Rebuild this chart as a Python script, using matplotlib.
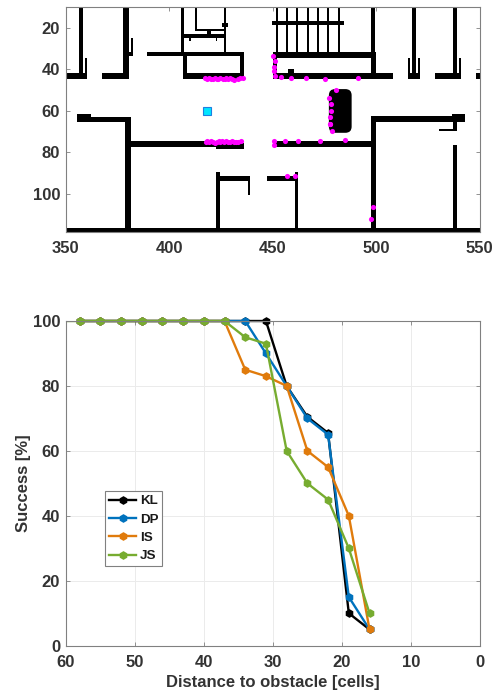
import matplotlib
matplotlib.use("Agg")
import matplotlib.pyplot as plt
from matplotlib.patches import Rectangle, FancyBboxPatch

plt.rcParams['font.family'] = ['Liberation Sans', 'DejaVu Sans']
plt.rcParams['font.weight'] = 'bold'

# --- map walls: (x0, x1, y0, y1) in map cells
walls = [
    (356.6,358.5,10,44.6),(350,360.5,41.6,44.6),(359.5,360.5,34.5,41.6),
    (367.4,380.3,41.6,44.6),(377.5,380.4,10,44.6),(380.3,382.4,31.6,33.4),(381.4,382.4,24.8,33.4),
    (389.3,436.2,31.6,33.4),(405.6,407.3,10,31.6),(406.5,408.5,31.6,44.6),(406.5,436.2,41.6,44.6),
    (434.4,436.2,31.6,44.6),(407.3,426.6,22.7,24.7),(409.6,410.4,24.7,26.3),(422.5,423.3,24.7,26.3),
    (412.3,413.3,10,21.6),(412.3,427,20.6,21.6),(426.3,427.5,10,31.6),(425.4,428.3,17.4,19.4),
    (418.4,420.2,21.6,22.7),
    (449.5,484.5,16.6,18.5),(451.5,452.5,10,31.6),(456.5,457.5,10,31.6),(461.5,462.5,10,31.6),
    (466.5,467.5,10,31.6),(471.5,472.5,10,31.6),(476.5,477.5,10,31.6),(481.5,482.5,10,31.6),
    (450.3,500.2,31.6,34.5),(450.3,452.3,31.6,44.6),(450.3,508.3,41.6,44.6),(497.4,499.3,10,31.6),
    (497.4,500.2,31.6,44.6),(457.4,460.4,39.6,41.6),
    (515.4,521.2,41.6,44.6),(515.4,516.4,34.5,41.6),(517.3,519.2,10,44.6),(520.2,521.2,34.5,41.6),
    (528.4,541.1,41.6,44.6),(537.3,539.2,10,44.6),(540.2,541.1,34.5,41.6),(548.2,550,41.6,44.6),
    (355.5,381.4,63,65.6),(355.5,362.2,61.5,63),(378.5,381.4,63,118.5),
    (350,550,116.5,118.5),
    (381.4,422.5,74.7,77.4),(422.5,436.2,75.5,78.4),
    (422.5,424.4,89.5,116.5),(424.4,439,91.7,93.7),(438.2,439.2,91.7,100.4),
    (447.4,462.1,91.7,93.7),(460.8,462.1,89.5,116.5),
    (450.9,497.4,74.7,77.4),(497.4,500.2,62.7,118.5),(497.4,543.2,62.7,65.6),(536.5,543.2,61.5,62.7),
    (537.3,539.2,62.7,69.6),(530.2,539.2,68.6,69.6),(537.3,539.2,76.3,116.5),
]
pillar = (477.2, 488.2, 49.5, 70.6)
hits_x = [417.4,418.3,419.2,420.1,421,422,423,423.8,424.8,425.8,426.8,427.6,428.6,429.6,430.6,431.5,433.2,434.2,435.5,
          450.3,451.1,450.6,450.8,451.1,454,459,466.3,475.3,491.4,
          480.7,477.2,478.2,478.2,477.9,477.9,477.7,478.5,
          417.6,418.5,419.4,420.3,421.2,422.2,423,423.9,424.8,425.7,426.6,427.6,428.5,429.5,430.4,431.4,432.4,433.5,434.7,
          450.8,450.5,456.1,462.4,472.9,484.8,457,461,498.3,497.8]
hits_y = [44.3,44.5,44.2,44.6,44.4,44.1,44.5,44.7,44.1,44.6,44.8,44.3,44.4,44.2,44.7,44.9,44.6,44.2,44.3,
          33.7,35.9,38.8,40.9,43.2,43.8,44.3,44.3,44.6,44.3,
          50.1,53.8,56.9,60.1,63.2,66.4,66.3,69.7,
          74.9,74.7,75,74.7,75.2,75.4,75,74.6,75.1,74.5,74.9,74.8,75,75.1,74.8,75,74.9,75,74.7,
          74.5,76.6,74.7,74.5,74.8,74.2,91.7,91.4,106.5,112]
robot_x = [418.1]
robot_y = [60.1]

# --- success curves
distance = [58,55,52,49,46,43,40,37,34,31,28,25,22,19,16]
KL = [100,100,100,100,100,100,100,100,100,100,80,70.5,65.5,10,5]
DP = [100,100,100,100,100,100,100,100,100,90,80,70,65,15,5]
IS = [100,100,100,100,100,100,100,100,85,83,80,60,55,40,5]
JS = [100,100,100,100,100,100,100,100,95,93,60,50,45,30,10]
series = [('KL',KL,'#000000'),('DP',DP,'#0072BD'),('IS',IS,'#E07B0C'),('JS',JS,'#77AC30')]

W, H = 499, 692
fig = plt.figure(figsize=(W/100, H/100), dpi=100)
def axes_px(l, t, r, b):
    return fig.add_axes([l/W, 1-b/H, (r-l)/W, (b-t)/H])

GRAY = '#808080'
TXT = '#333333'
def style(ax):
    for s in ax.spines.values():
        s.set_color(GRAY); s.set_linewidth(0.8)
    ax.tick_params(direction='in', length=3, width=0.6, color=GRAY, top=True, right=True,
                   labelcolor=TXT, labelsize=12)
    ax.tick_params(axis='x', pad=6.8)
    ax.tick_params(axis='y', pad=4)

# top map
ax = axes_px(65.7, 7.3, 479.5, 232)
ax.set_xlim(350, 550); ax.set_ylim(118.5, 10)
for x0, x1, y0, y1 in walls:
    ax.add_patch(Rectangle((x0, y0), x1-x0, y1-y0, fc='k', ec='none', zorder=2))
px0, px1, py0, py1 = pillar
ax.add_patch(FancyBboxPatch((px0+3, py0+3), px1-px0-6, py1-py0-6, boxstyle='round,pad=3,rounding_size=3',
                            fc='k', ec='none', zorder=2))
ax.plot(hits_x, hits_y, ls='none', marker='o', ms=3.7, mfc='#FF00FF', mec='#FF00FF', mew=0, zorder=3)
ax.plot(robot_x, robot_y, ls='none', marker='s', ms=5.2, mfc='#00E5FF', mec='#1E7FE0', mew=0.8, zorder=4)
ax.set_xticks([350,400,450,500,550]); ax.set_yticks([20,40,60,80,100])
style(ax)

# bottom curves
ax2 = axes_px(65.7, 321, 480, 645.7)
ax2.set_xlim(60, 0); ax2.set_ylim(0, 100)
ax2.grid(True, color='#EBEBEB', lw=0.7)
ax2.set_axisbelow(True)
for name, vals, col in series:
    ax2.plot(distance, vals, color=col, lw=1.7, marker='h', ms=6.3, mew=0, label=name, clip_on=False)
ax2.plot([60, distance[0]], [JS[0], JS[0]], color='#77AC30', lw=1.7)
ax2.set_xticks(range(0, 61, 10)); ax2.set_xticklabels([str(v) for v in range(0, 61, 10)])
ax2.set_yticks(range(0, 101, 20))
style(ax2)
ax2.set_xlabel('Distance to obstacle [cells]', fontsize=12, color=TXT, fontweight='bold', labelpad=3.5)
ax2.set_ylabel('Success [%]', fontsize=12, color=TXT, fontweight='bold', labelpad=1.5)
leg = ax2.legend(loc='upper left', bbox_to_anchor=((105-65.7)/414.3, 1-(491-321)/324.7), borderaxespad=0,
                 prop={'size': 9.6, 'weight': 'bold'}, frameon=True, fancybox=False, edgecolor=GRAY, framealpha=1,
                 handlelength=2.05, handletextpad=0.25, labelspacing=0.45, borderpad=0.3)
leg.get_frame().set_linewidth(0.8)
for t in leg.get_texts():
    t.set_color('#1A1A1A')

fig.savefig('out.png', dpi=100)
